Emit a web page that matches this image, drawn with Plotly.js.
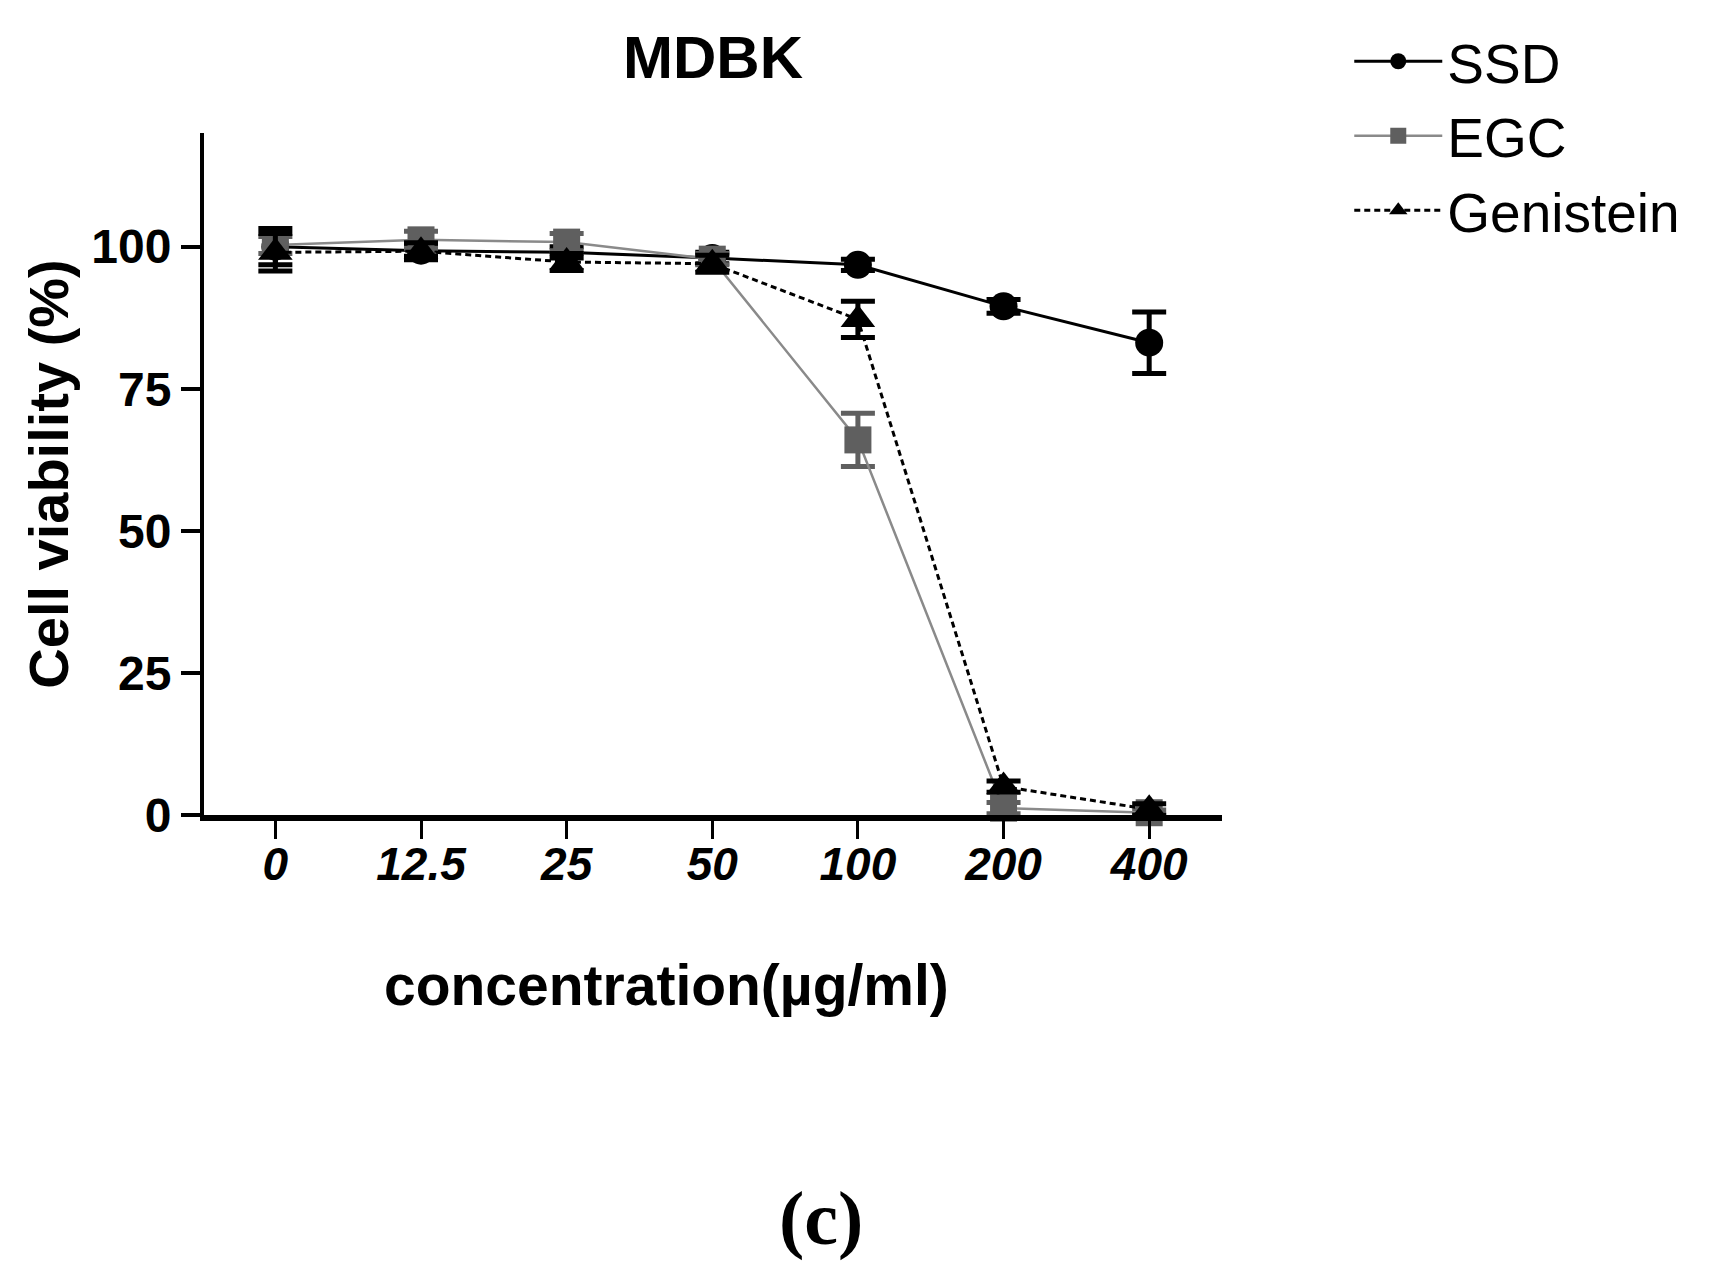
<!DOCTYPE html>
<html>
<head>
<meta charset="utf-8">
<script src="https://cdn.plot.ly/plotly-3.0.1.min.js"></script>
<style>
  html, body { margin: 0; padding: 0; background: #fff; }
  #chart { width: 1721px; height: 1267px; }
</style>
</head>
<body>
<div id="chart"></div>
<script>
// concentrations (ug/ml), used as categories on the x axis
var concentrations = ['0', '12.5', '25', '50', '100', '200', '400'];

// cell viability (%), with the SD bars
var ssdValues = [100, 99.3, 99, 98, 96.8, 89.5, 83.1];
var ssdErrors = [3.2, 1, 1, 1, 1, 1.2, 5.4];

var egcValues = [100.3, 101.2, 100.8, 97.8, 66, 1.2, 0.4];
var egcErrors = [1.5, 1.5, 1.5, 1, 4.7, 1, 0.5];

var genisteinValues = [99, 99.2, 97.3, 97, 87.2, 5, 1];
var genisteinErrors = [3.3, 1.5, 1.5, 1.5, 3.2, 1, 1];

var yTicks = [0, 25, 50, 75, 100];

var fontFamily = 'Arial, "Liberation Sans", sans-serif';

// plot area in pixels, used to place the free texts in paper units
var plotBottom = 815, plotHeight = 682;
function paperY(px) { return (plotBottom - px) / plotHeight; }

function errBar(vals, color) {
  return {
    type: 'data',
    array: vals,
    visible: true,
    color: color,
    thickness: 5,
    width: 17
  };
}

var data = [
  {
    name: 'SSD',
    x: concentrations,
    y: ssdValues,
    type: 'scatter',
    mode: 'lines+markers',
    line: { color: '#000000', width: 3 },
    marker: { symbol: 'circle', size: 28, color: '#000000' },
    error_y: errBar(ssdErrors, '#000000'),
    cliponaxis: false
  },
  {
    name: 'EGC',
    x: concentrations,
    y: egcValues,
    type: 'scatter',
    mode: 'lines+markers',
    line: { color: '#8a8a8a', width: 2.5 },
    marker: { symbol: 'square', size: 27, color: '#5f5f5f' },
    error_y: errBar(egcErrors, '#5f5f5f'),
    cliponaxis: false
  },
  {
    name: 'Genistein',
    x: concentrations,
    y: genisteinValues,
    type: 'scatter',
    mode: 'lines+markers',
    line: { color: '#000000', width: 3, dash: '6px,4px' },
    marker: { symbol: 'triangle-up', size: 30, color: '#000000' },
    error_y: errBar(genisteinErrors, '#000000'),
    cliponaxis: false
  }
];

var layout = {
  width: 1721,
  height: 1267,
  paper_bgcolor: '#ffffff',
  plot_bgcolor: '#ffffff',
  font: { family: fontFamily, color: '#000000' },
  margin: { l: 204, r: 499, t: 133, b: 452 },
  title: {
    text: '<b>MDBK</b>',
    font: { family: fontFamily, size: 60, color: '#000000' },
    x: 0.5,
    xref: 'paper',
    y: 0.955,
    yref: 'container',
    yanchor: 'middle'
  },
  xaxis: {
    type: 'category',
    range: [-0.49, 6.5],
    showgrid: false,
    zeroline: false,
    showline: true,
    linecolor: '#000000',
    linewidth: 6,
    ticks: 'outside',
    ticklen: 18,
    tickwidth: 3,
    tickcolor: '#000000',
    ticklabelstandoff: -14,
    tickfont: { family: fontFamily, size: 46, weight: 'bold', style: 'italic', color: '#000000' },
    fixedrange: true
  },
  yaxis: {
    range: [0, 120],
    tickvals: yTicks,
    showgrid: false,
    zeroline: false,
    showline: true,
    linecolor: '#000000',
    linewidth: 4,
    ticks: 'outside',
    ticklen: 19,
    tickwidth: 4,
    tickcolor: '#000000',
    tickfont: { family: fontFamily, size: 48, weight: 'bold', color: '#000000' },
    title: {
      text: '<b>Cell viability (%)</b>',
      font: { family: fontFamily, size: 56, color: '#000000' },
      standoff: 6
    },
    fixedrange: true
  },
  legend: {
    xref: 'container',
    yref: 'container',
    x: 0.784,
    y: 0.985,
    xanchor: 'left',
    yanchor: 'top',
    bgcolor: 'rgba(0,0,0,0)',
    font: { family: fontFamily, size: 55, color: '#000000' },
    itemwidth: 88,
    tracegroupgap: 0
  },
  annotations: [
    {
      text: '<b>concentration(µg/ml)</b>',
      xref: 'paper',
      yref: 'paper',
      x: 0.454,
      y: paperY(985),
      xanchor: 'center',
      yanchor: 'middle',
      showarrow: false,
      font: { family: fontFamily, size: 57, color: '#000000' }
    },
    {
      text: '<b>(c)</b>',
      xref: 'paper',
      yref: 'paper',
      x: 0.606,
      y: paperY(1218),
      xanchor: 'center',
      yanchor: 'middle',
      showarrow: false,
      font: { family: '"Liberation Serif", "Times New Roman", serif', size: 76, color: '#000000' }
    }
  ]
};

var config = { displayModeBar: false, staticPlot: true };

Plotly.newPlot('chart', data, layout, config);
</script>
</body>
</html>
